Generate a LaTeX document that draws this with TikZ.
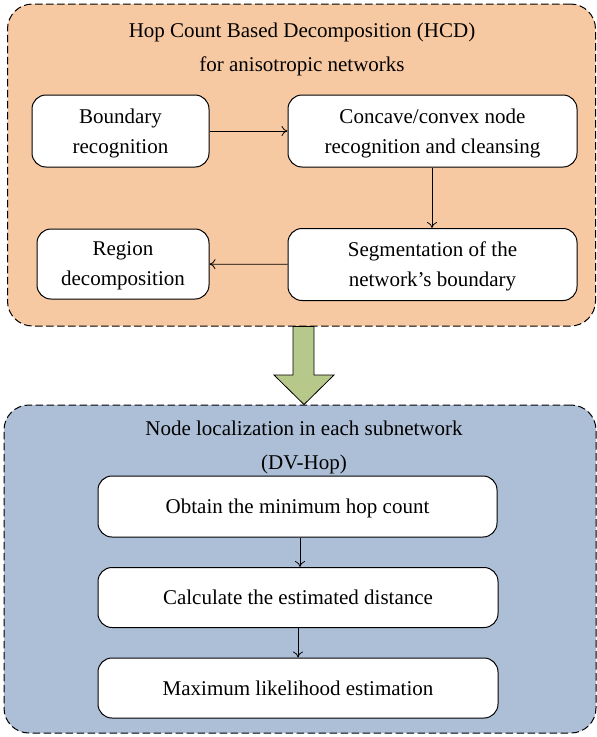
\documentclass[tikz,border=0pt]{standalone}
\usepackage{fontspec}
\setmainfont{Liberation Serif}
\usetikzlibrary{arrows.meta}
\definecolor{hcdorange}{HTML}{F7C9A3}
\definecolor{dvblue}{HTML}{ADBFD7}
\definecolor{bigarrow}{HTML}{B6C98B}
\tikzset{
  container/.style={draw, line width=1pt, dash pattern=on 7.5pt off 3.5pt, rounded corners=25pt, inner sep=0pt},
  stepbox/.style={draw, fill=white, line width=1pt, rounded corners=14pt, align=center, inner sep=0pt,
    text depth=0pt, font=\fontsize{21}{30}\selectfont},
  titletext/.style={align=center, text depth=0pt, font=\fontsize{21}{34}\selectfont},
  conn/.style={-{To[length=6pt,width=10pt]}, line width=0.8pt}
}
\begin{document}
\begin{tikzpicture}[x=1pt,y=-1pt]
\useasboundingbox (0,0) rectangle (597,737);
% containers
\node[container, fill=hcdorange, minimum width=588pt, minimum height=322pt] (hcd) at (301.5,165) {};
\node[container, fill=dvblue, minimum width=592pt, minimum height=328pt] (dv) at (300,569) {};
% titles
\node[titletext] (hcdtitle) at (302,47) {Hop Count Based Decomposition (HCD)\\for anisotropic networks};
\node[titletext] (dvtitle) at (304,445) {Node localization in each subnetwork\\(DV-Hop)};
% steps top
\node[stepbox, minimum width=177pt, minimum height=72pt] (br) at (120.5,131) {Boundary\\recognition};
\node[stepbox, minimum width=289pt, minimum height=72pt] (cc) at (432.5,131) {Concave/convex node\\recognition and cleansing};
\node[stepbox, minimum width=289pt, minimum height=72pt] (seg) at (432.5,264.5) {Segmentation of the\\network’s boundary};
\node[stepbox, minimum width=172pt, minimum height=70pt] (rd) at (123,264) {Region\\decomposition};
% steps bottom
\node[stepbox, minimum width=399pt, minimum height=61pt] (ob) at (297.5,506.5) {Obtain the minimum hop count};
\node[stepbox, minimum width=400pt, minimum height=60pt] (ca) at (298,597.5) {Calculate the estimated distance};
\node[stepbox, minimum width=400pt, minimum height=60pt] (ml) at (298,688) {Maximum likelihood estimation};
% connectors
\draw[conn] (br) -- (cc);
\draw[conn] (cc.south -| 432,0) -- (seg.north -| 432,0);
\draw[conn] (seg) -- (rd);
\draw[conn] (ob.south -| 300,0) -- (ca.north -| 300,0);
\draw[conn] (ca.south -| 298,0) -- (ml.north -| 298,0);
% big arrow between containers
\draw[fill=bigarrow, line width=0.8pt, line join=miter]
  (hcd.south -| 293,0) -- (293,375) -- (274,375) -- (dv.north -| 304,0) -- (334,375) -- (314,375) -- (hcd.south -| 314,0) -- cycle;
\end{tikzpicture}
\end{document}
